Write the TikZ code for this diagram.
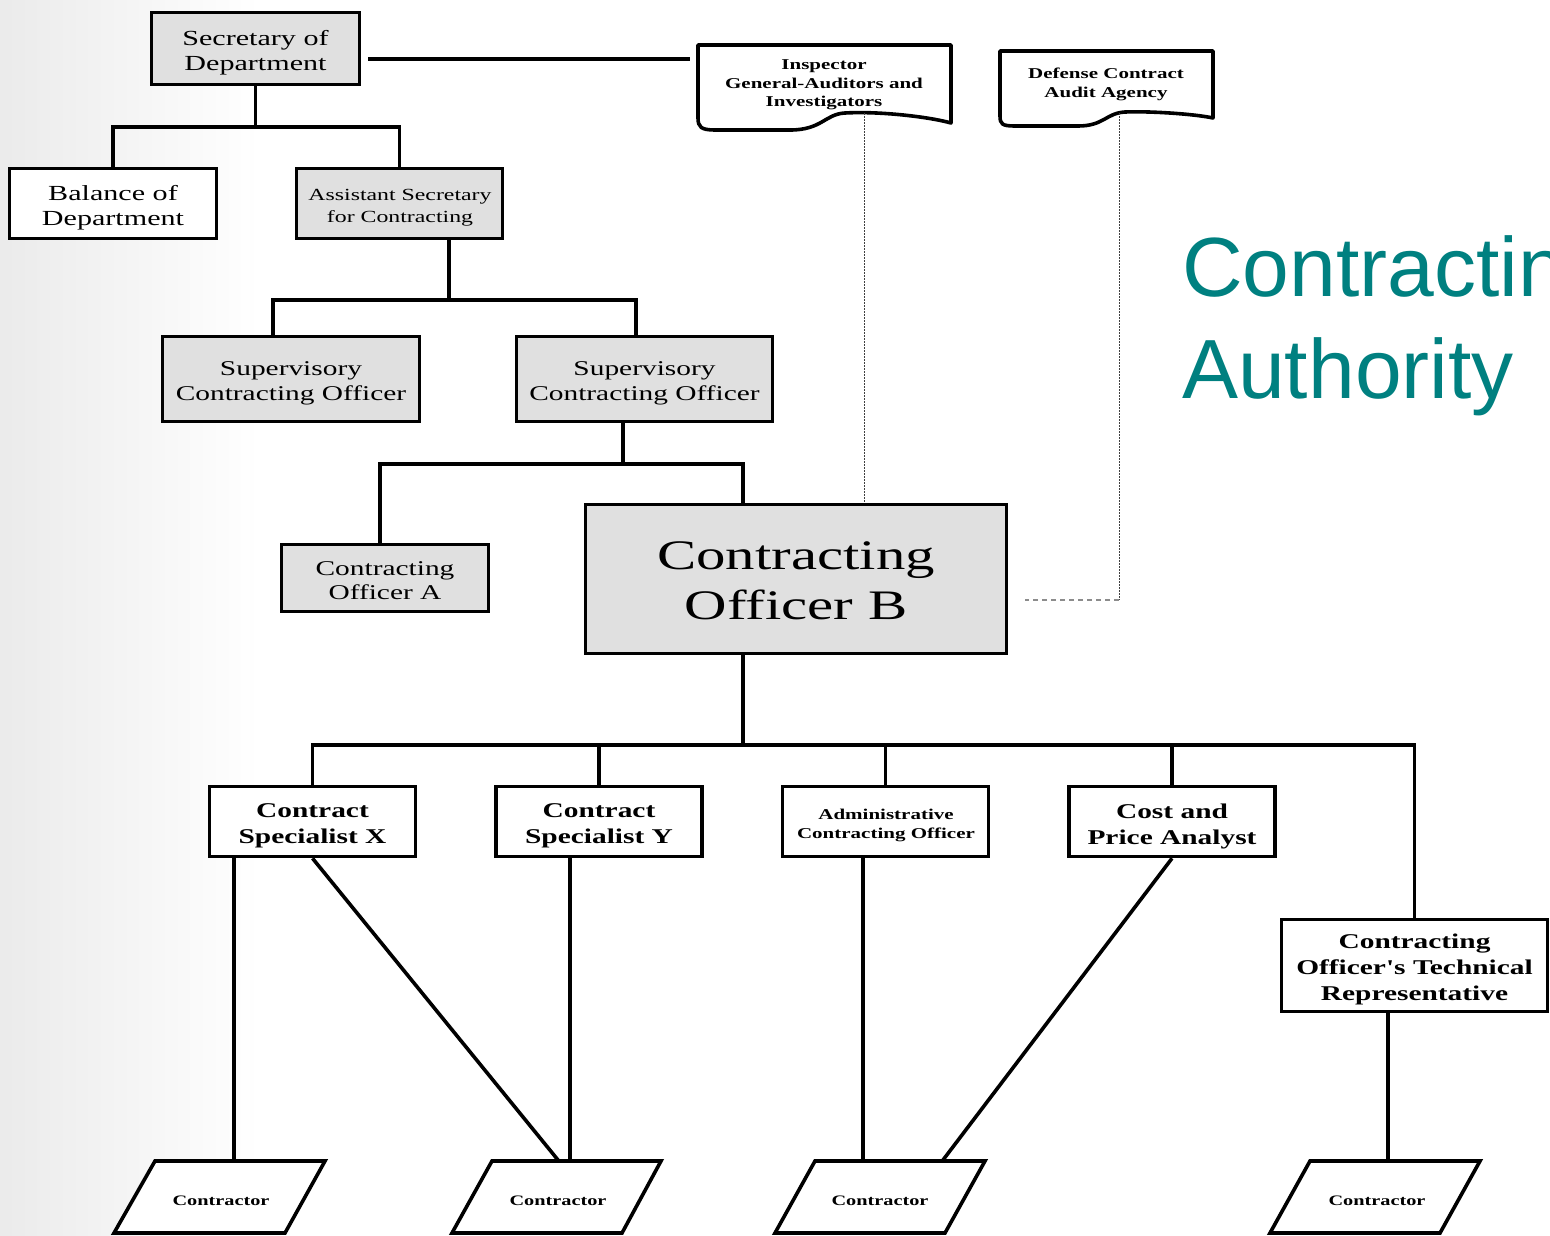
\documentclass[tikz,border=0pt]{standalone}
\usepackage{fontspec}
\setmainfont{Liberation Serif}[FakeStretch=1.4, Ligatures=TeXOff]
\newfontfamily\titlefont{Liberation Sans}
\definecolor{boxgray}{RGB}{224,224,224}
\definecolor{titleteal}{RGB}{0,128,128}
\begin{document}
\begin{tikzpicture}[x=1pt,y=-1pt,
  box/.style={draw, line width=3.6pt, inner sep=0pt},
  gbox/.style={box, fill=boxgray},
  wbox/.style={box, fill=white},
  conn/.style={line width=3.6pt, line join=miter},
  doc/.style={line width=3.6pt, fill=white, line join=round},
  para/.style={line width=3.6pt, fill=white, line join=miter},
  txt/.style={align=center, inner sep=0pt},
  fr/.style 2 args={font=\fontsize{#1}{#2}\selectfont},
  fb/.style 2 args={font=\fontsize{#1}{#2}\selectfont\bfseries},
  dotline/.style={line width=1pt, black!75, dash pattern=on 1.5pt off 1.5pt},
  dashline/.style={line width=1.3pt, black!45, dash pattern=on 5pt off 4pt},
  ttl/.style={anchor=base west, inner sep=0pt, text=titleteal, font=\titlefont\fontsize{84}{102}\selectfont}
]
\useasboundingbox (0,0) rectangle (1550,1235);
\clip (0,0) rectangle (1550,1235);
\fill[white] (0,0) rectangle (1550,1235);
\shade[left color=black!8, right color=white] (0,0) rectangle (260,1235);

% title
\node[ttl] (title1) at (1182,296) {Contracting};
\node[ttl] (title2) at (1182,398) {Authority};

% document shapes
\draw[doc] (698,45) -- (951,45) -- (951,123) .. controls (930,117) and (880,111) .. (845,113) .. controls (825,114) and (822,130) .. (790,130) -- (715,130) .. controls (701,130) and (698,127) .. (698,118) -- cycle;
\node[txt, fb={15}{18.5}] (ig) at (824,85) {Inspector\\General-Auditors and\\Investigators};
\draw[doc] (1000,51) -- (1213,51) -- (1213,118) .. controls (1195,114) and (1150,111) .. (1125,112) .. controls (1106,113) and (1104,126) .. (1078,126) -- (1015,126) .. controls (1002,126) and (1000,124) .. (1000,116) -- cycle;
\node[txt, fb={15}{19}] (dcaa) at (1106,84) {Defense Contract\\Audit Agency};

% boxes
\node[gbox, minimum width=208, minimum height=72] (sec) at (255.5,48.5) {};
\node[txt, fr={21.5}{24.5}] (sect) at (255.5,52.5) {Secretary of\\Department};
\node[wbox, minimum width=207, minimum height=70] (bal) at (113,203.5) {};
\node[txt, fr={21.5}{25}] (balt) at (113,208) {Balance of\\Department};
\node[gbox, minimum width=206, minimum height=70] (asst) at (399.5,203.5) {};
\node[txt, fr={17}{22}] (asstt) at (400,207.5) {Assistant Secretary\\for Contracting};
\node[gbox, minimum width=257, minimum height=85] (sco1) at (291,379) {};
\node[txt, fr={21}{25}] (sco1t) at (291,383) {Supervisory\\Contracting Officer};
\node[gbox, minimum width=256, minimum height=85] (sco2) at (644.5,379) {};
\node[txt, fr={21}{25}] (sco2t) at (644.5,383) {Supervisory\\Contracting Officer};
\node[gbox, minimum width=207, minimum height=67] (coa) at (385,578) {};
\node[txt, fr={21}{24}] (coat) at (385,581) {Contracting\\Officer A};

% dotted connectors (behind CO B)
\coordinate (igd) at (864,113);
\coordinate (dcd) at (1119,113);
\coordinate (dcc) at (1119,600);
\coordinate (dce) at (1025,600);
\draw[dotline] (igd) -- (864,512);
\draw[dotline] (dcd) -- (dcc);
\draw[dashline] (dcc) -- (dce);

\node[gbox, minimum width=421, minimum height=149] (cob) at (796,579) {};
\node[txt, fr={42}{50}] (cobt) at (796,581) {Contracting\\Officer B};

\node[wbox, minimum width=206, minimum height=70] (csx) at (312.5,821.5) {};
\node[txt, fb={21}{26}] (csxt) at (312.5,826) {Contract\\Specialist X};
\node[wbox, minimum width=206, minimum height=70] (csy) at (599,821.5) {};
\node[txt, fb={21}{26}] (csyt) at (599,826) {Contract\\Specialist Y};
\node[wbox, minimum width=206, minimum height=70] (aco) at (885.5,821.5) {};
\node[txt, fb={15}{19}] (acot) at (886,825.5) {Administrative\\Contracting Officer};
\node[wbox, minimum width=206, minimum height=70] (cpa) at (1172,821.5) {};
\node[txt, fb={21}{26}] (cpat) at (1172,826) {Cost and\\Price Analyst};
\node[wbox, minimum width=266, minimum height=92] (cotr) at (1414.5,965.5) {};
\node[txt, fb={21}{26}] (cotrt) at (1414.5,969.5) {Contracting\\Officer's Technical\\Representative};

% contractors
\draw[para] (155,1161) -- (325,1161) -- (285,1233) -- (114,1233) -- cycle;
\node[txt, fb={14.5}{17}] (k1) at (221,1201) {Contractor};
\draw[para] (492,1161) -- (661,1161) -- (622,1233) -- (452,1233) -- cycle;
\node[txt, fb={14.5}{17}] (k2) at (558,1201) {Contractor};
\draw[para] (815,1161) -- (985,1161) -- (945,1233) -- (775,1233) -- cycle;
\node[txt, fb={14.5}{17}] (k3) at (880,1201) {Contractor};
\draw[para] (1310,1161) -- (1480,1161) -- (1440,1233) -- (1270,1233) -- cycle;
\node[txt, fb={14.5}{17}] (k4) at (1377,1201) {Contractor};
\coordinate (k1t) at (234,1160);
\coordinate (k2a) at (558,1160);
\coordinate (k2b) at (570,1160);
\coordinate (k3a) at (863,1160);
\coordinate (k3b) at (943,1160);
\coordinate (k4t) at (1388,1160);

% tree connectors
\coordinate (igl) at (690,59);
\draw[conn] (sec.east |- 0,59) ++(7,0) -- (igl);
\draw[conn] (sec.south) -- (sec.south |- 0,127);
\draw[conn] (bal.north) -- (bal.north |- 0,127) -- (asst.north |- 0,127) -- (asst.north);
\draw[conn] (asst.south -| 449,0) -- (449,300);
\draw[conn] (sco1.north -| 273,0) -- (273,300) -- (636,300) -- (sco2.north -| 636,0);
\draw[conn] (sco2.south -| 623,0) -- (623,464);
\draw[conn] (coa.north -| 380,0) -- (380,464) -- (743,464) -- (cob.north -| 743,0);
\draw[conn] (cob.south -| 743,0) -- (743,745);
\draw[conn] (csx.north) -- (csx.north |- 0,745) -- (cotr.north |- 0,745) -- (cotr.north);
\foreach \n in {csy,aco,cpa} \draw[conn] (\n.north) -- (\n.north |- 0,745);

% to contractors
\draw[conn] (csx.south -| k1t) -- (k1t);
\draw[conn] (csx.south) -- (k2a);
\draw[conn] (csy.south -| k2b) -- (k2b);
\draw[conn] (aco.south -| k3a) -- (k3a);
\draw[conn] (cpa.south) -- (k3b);
\draw[conn] (cotr.south -| k4t) -- (k4t);
\end{tikzpicture}
\end{document}
